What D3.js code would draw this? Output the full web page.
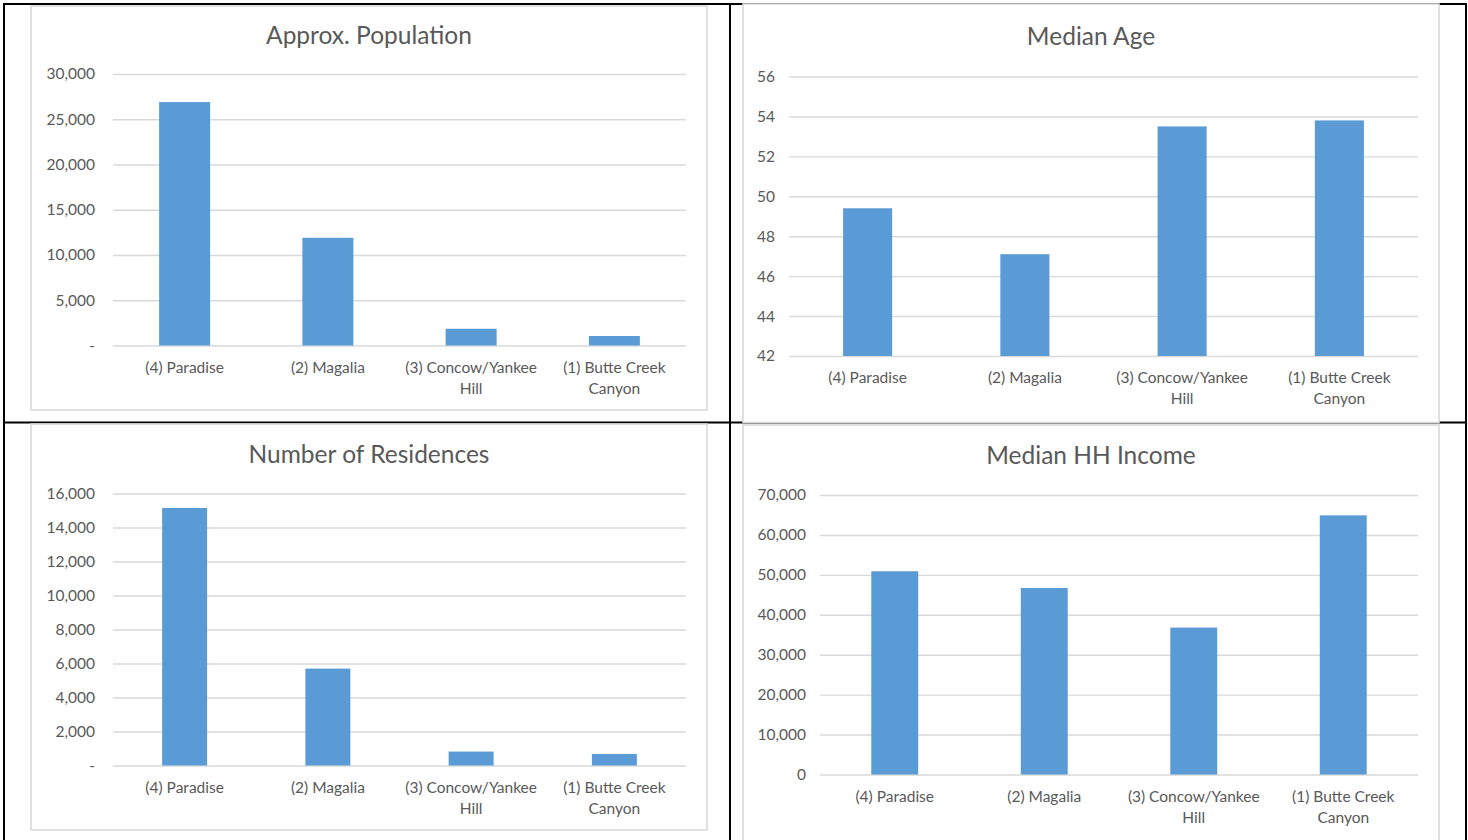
<!DOCTYPE html>
<html lang="en">
<head>
<meta charset="UTF-8">
<title>Community profiles</title>
<script src="https://cdnjs.cloudflare.com/ajax/libs/d3/7.8.5/d3.min.js"></script>
<style>
  body { margin: 0; background: #fff; }
  svg { display: block; font-family: Lato, "Open Sans", sans-serif; }
  .frame { fill: #fff; stroke: #d9d9d9; stroke-width: 1.6; }
  .grid line { stroke: #d9d9d9; stroke-width: 1.4; }
  .grid .domain { display: none; }
  .grid text { fill: #595959; font-size: 15.5px; font-family: Lato, "Open Sans", sans-serif; }
  .bar { fill: #5b9bd5; }
  .title { fill: #595959; font-size: 24.5px; text-anchor: middle; }
  .cat { fill: #595959; font-size: 15.5px; text-anchor: middle; }
  .rule { stroke: #000; stroke-width: 2; }
</style>
</head>
<body>
<div id="chart"></div>
<script>
// categories, same order in every panel
const categories = ['(4) Paradise', '(2) Magalia', '(3) Concow/Yankee Hill', '(1) Butte Creek Canyon'];

// values
const population = [26900, 11900, 1850, 1050];
const medianAge = [49.4, 47.1, 53.5, 53.8];
const residences = [15150, 5700, 820, 680];
const medianIncome = [50900, 46700, 36800, 64900];

// y ticks
const populationTicks = [0, 5000, 10000, 15000, 20000, 25000, 30000];
const ageTicks = [42, 44, 46, 48, 50, 52, 54, 56];
const residenceTicks = [0, 2000, 4000, 6000, 8000, 10000, 12000, 14000, 16000];
const incomeTicks = [0, 10000, 20000, 30000, 40000, 50000, 60000, 70000];

const width = 1468, height = 840;

const svg = d3.select('#chart')
  .append('svg')
  .attr('width', width)
  .attr('height', height);

// accounting style: zero shows as a dash
const acct = d => d === 0 ? '-' : d3.format(',')(d);
const plain = d => d3.format(',')(d);

function wrap(text, maxWidth) {
  text.each(function() {
    const t = d3.select(this);
    const words = t.text().split(' ');
    const x = t.attr('x');
    t.text(null);
    let line = [];
    let tspan = t.append('tspan').attr('x', x).attr('dy', 0);
    words.forEach(w => {
      line.push(w);
      tspan.text(line.join(' '));
      if (tspan.node().getComputedTextLength() > maxWidth && line.length > 1) {
        line.pop();
        tspan.text(line.join(' '));
        line = [w];
        tspan = t.append('tspan').attr('x', x).attr('dy', 21).text(w);
      }
    });
  });
}

function drawPanel(p) {
  const g = svg.append('g');

  g.append('rect')
    .attr('class', 'frame')
    .attr('x', p.box[0])
    .attr('y', p.box[1])
    .attr('width', p.box[2])
    .attr('height', p.box[3]);

  g.append('text')
    .attr('class', 'title')
    .attr('x', p.box[0] + p.box[2] / 2)
    .attr('y', p.titleY)
    .text(p.title);

  const gap = 1 - p.barFrac;
  const x = d3.scaleBand()
    .domain(categories)
    .range([p.x0, p.x1])
    .paddingInner(gap)
    .paddingOuter(gap / 2);

  const y = d3.scaleLinear()
    .domain(d3.extent(p.ticks))
    .range([p.y1, p.y0]);

  g.append('g')
    .attr('class', 'grid')
    .attr('transform', `translate(${p.x0},0)`)
    .call(d3.axisLeft(y)
      .tickValues(p.ticks)
      .tickFormat(p.fmt)
      .tickSize(-(p.x1 - p.x0))
      .tickPadding(p.pad));

  g.selectAll('.bar')
    .data(p.values)
    .enter()
    .append('rect')
    .attr('class', 'bar')
    .attr('x', (d, i) => x(categories[i]))
    .attr('width', x.bandwidth())
    .attr('y', d => y(d))
    .attr('height', d => y(y.domain()[0]) - y(d));

  g.selectAll('.cat')
    .data(categories)
    .enter()
    .append('text')
    .attr('class', 'cat')
    .attr('x', d => x(d) + x.bandwidth() / 2)
    .attr('y', p.y1 + 27)
    .text(d => d)
    .call(wrap, 140);
}

// table rules behind the chart boxes
const rules = [
  [3, 4, 1467, 4],
  [3, 422.5, 1467, 422.5],
  [4, 3, 4, 840],
  [730, 3, 730, 840],
  [1466, 3, 1466, 840]
];
svg.selectAll('.rule')
  .data(rules)
  .enter()
  .append('line')
  .attr('class', 'rule')
  .attr('x1', d => d[0]).attr('y1', d => d[1])
  .attr('x2', d => d[2]).attr('y2', d => d[3]);

drawPanel({
  title: 'Approx. Population', values: population, ticks: populationTicks, fmt: acct,
  box: [31, 6, 676, 404], titleY: 44,
  x0: 113, x1: 686, y0: 74, y1: 345.5, pad: 18, barFrac: 0.356
});

drawPanel({
  title: 'Median Age', values: medianAge, ticks: ageTicks, fmt: plain,
  box: [743, 4, 696, 418.5], titleY: 45,
  x0: 789, x1: 1418, y0: 76.5, y1: 356, pad: 14, barFrac: 0.312
});

drawPanel({
  title: 'Number of Residences', values: residences, ticks: residenceTicks, fmt: acct,
  box: [31, 424, 676, 406], titleY: 463,
  x0: 113, x1: 686, y0: 493.5, y1: 765.5, pad: 18, barFrac: 0.314
});

drawPanel({
  title: 'Median HH Income', values: medianIncome, ticks: incomeTicks, fmt: plain,
  box: [743, 425, 696, 430], titleY: 464,
  x0: 820, x1: 1418, y0: 495, y1: 774.5, pad: 14, barFrac: 0.314
});
</script>
</body>
</html>
